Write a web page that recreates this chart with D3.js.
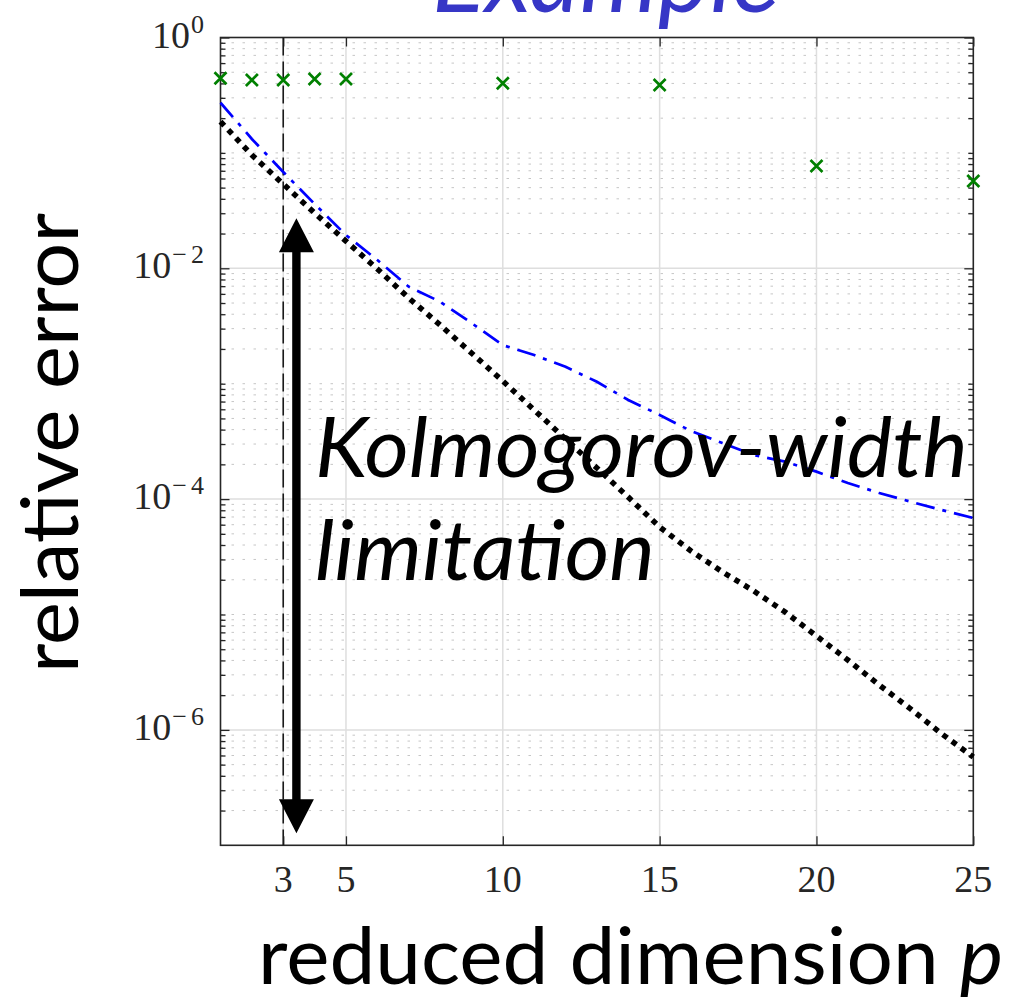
<!DOCTYPE html>
<html><head><meta charset="utf-8">
<script src="https://cdn.jsdelivr.net/npm/d3@7"></script>
<style>body{margin:0;background:#fff}svg{display:block}</style>
</head><body>
<svg id="c" width="1012" height="997"></svg>
<script>
// ---- data ----
const pValues = [1,2,3,4,5,6,7,8,9,10,11,12,13,14,15,16,17,18,19,20,21,22,23,24,25];
const blueError = [0.272,0.132,0.0683,0.0361,0.0194,0.0118,0.00693,0.00514,0.00336,0.00216,
  0.00177,0.00140,0.00104,7.22e-4,5.36e-4,3.89e-4,3.06e-4,2.41e-4,2.11e-4,1.73e-4,
  1.38e-4,1.13e-4,9.5e-5,8.04e-5,6.86e-5];
const blackError = [0.1864,0.0959,0.0537,0.0301,0.0172,0.00986,0.00553,0.00323,0.001845,0.001055,
  5.92e-4,3.32e-4,1.86e-4,1.04e-4,5.73e-5,3.55e-5,2.34e-5,1.60e-5,1.05e-5,6.51e-6,
  4.03e-6,2.45e-6,1.52e-6,9.21e-7,5.82e-7];
const markerP = [1,2,3,4,5,10,15,20,25];
const markerError = [0.443,0.428,0.428,0.437,0.437,0.401,0.388,0.077,0.0571];
const xTickValues = [3,5,10,15,20,25];
const xGridValues = [3,5,10,15,20];
const yTickExponents = [0,-2,-4,-6];
const dashedLineP = 3;
const arrowAnnot = {p:3.42, top:0.0271, bottom:1.27e-7};

// ---- layout ----
const svg = d3.select("#c");
const x = d3.scaleLinear().domain([1,25]).range([220.5,973.3]);
const y = d3.scaleLog().domain([1e-7,1]).range([845.3,37.5]);
const X0 = x.range()[0], X1 = x.range()[1], Y0 = y.range()[1], Y1 = y.range()[0];

// minor values
const yMajor = yTickExponents.map(e => Math.pow(10,e));
const yMinor = [];
for (let n=-7;n<=-1;n++){ for (let k=1;k<=9;k++){
  const v = k*Math.pow(10,n);
  if (n===-7 && k===1) continue;
  if (yMajor.some(m=>Math.abs(Math.log10(m)-Math.log10(v))<1e-9)) continue;
  yMinor.push(v);
}}

function fitText(t, width){
  const w = t.node().getBBox().width;
  return width / w;
}
// title (cut off at the top edge, as in the reference)
{
  const t = svg.append("text").attr("x",0).attr("y",0)
    .attr("font-family","Lato, 'Open Sans', sans-serif").attr("font-style","italic")
    .attr("font-size",100).attr("fill","#3636c6").text("Example");
  const s = fitText(t,348);
  t.attr("transform",`translate(432,12) scale(${s},1)`);
}

// grids
const grid = svg.append("g");
grid.selectAll(".mg").data(yMinor).join("line")
  .attr("x1",X0).attr("x2",X1).attr("y1",d=>y(d)).attr("y2",d=>y(d))
  .attr("stroke","#c6c6c6").attr("stroke-width",1).attr("stroke-dasharray","2.5 8.5");
grid.selectAll(".gy").data(yMajor.filter(v=>v<1)).join("line")
  .attr("x1",X0).attr("x2",X1).attr("y1",d=>y(d)).attr("y2",d=>y(d))
  .attr("stroke","#dedede").attr("stroke-width",1.5);
grid.selectAll(".gx").data(xGridValues).join("line")
  .attr("x1",d=>x(d)).attr("x2",d=>x(d)).attr("y1",Y0).attr("y2",Y1)
  .attr("stroke","#dedede").attr("stroke-width",1.5);

// axes via d3.axis (ticks inward)
const axCol = "#262626";
function styleAxis(g){ g.select(".domain").remove(); g.selectAll("line").attr("stroke",axCol).attr("stroke-width",1.3); g.selectAll("text").remove(); }
svg.append("g").attr("transform",`translate(${X0},0)`).call(d3.axisLeft(y).tickValues(yMajor).tickSize(-9).tickFormat("")).call(styleAxis);
svg.append("g").attr("transform",`translate(${X0},0)`).call(d3.axisLeft(y).tickValues(yMinor).tickSize(-5).tickFormat("")).call(styleAxis);
svg.append("g").attr("transform",`translate(${X1},0)`).call(d3.axisRight(y).tickValues(yMajor).tickSize(-9).tickFormat("")).call(styleAxis);
svg.append("g").attr("transform",`translate(${X1},0)`).call(d3.axisRight(y).tickValues(yMinor).tickSize(-5).tickFormat("")).call(styleAxis);
svg.append("g").attr("transform",`translate(0,${Y1})`).call(d3.axisBottom(x).tickValues(xTickValues).tickSize(-9).tickFormat("")).call(styleAxis);
svg.append("g").attr("transform",`translate(0,${Y0})`).call(d3.axisTop(x).tickValues(xTickValues).tickSize(-9).tickFormat("")).call(styleAxis);
svg.append("rect").attr("x",X0).attr("y",Y0).attr("width",X1-X0).attr("height",Y1-Y0)
  .attr("fill","none").attr("stroke",axCol).attr("stroke-width",1.6);

// tick labels
const tickFont = "'Liberation Serif', 'DejaVu Serif', serif";
svg.append("g").selectAll("text").data(xTickValues).join("text")
  .attr("x",d=>x(d)).attr("y",Y1+47).attr("text-anchor","middle")
  .attr("font-family",tickFont).attr("font-size",38).attr("fill",axCol).text(d=>d);
const yl = svg.append("g").selectAll("text").data(yTickExponents).join("text")
  .attr("x",204).attr("y",d=>y(Math.pow(10,d))+10).attr("text-anchor","end")
  .attr("font-family",tickFont).attr("fill",axCol);
yl.append("tspan").attr("font-size",38).text("10");
yl.each(function(e){
  const t = d3.select(this);
  if (e===0){ t.append("tspan").attr("font-size",26).attr("dy",-15).attr("dx",1).text("0"); }
  else {
    t.append("tspan").attr("font-size",26).attr("dy",-15).attr("dx",1).text("\u2212");
    t.append("tspan").attr("font-size",26).attr("dx",4).text(-e);
  }
});

// dashed x-line at p=3
svg.append("line").attr("x1",x(dashedLineP)).attr("x2",x(dashedLineP)).attr("y1",Y0).attr("y2",Y1)
  .attr("stroke","#1a1a1a").attr("stroke-width",1.6).attr("stroke-dasharray","18 6");

// series
const line = d3.line().x((d,i)=>x(pValues[i])).y(d=>y(d));
svg.append("path").attr("d",line(blueError)).attr("fill","none")
  .attr("stroke","#0000ff").attr("stroke-width",2.7).attr("stroke-dasharray","19 8 4 8");
svg.append("path").attr("d",line(blackError)).attr("fill","none")
  .attr("stroke","#000").attr("stroke-width",5.5).attr("stroke-dasharray","5.5 5.8");
svg.append("g").selectAll("path").data(markerP).join("path")
  .attr("d",(d,i)=>{const cx=x(d), cy=y(markerError[i]), h=6;
    return `M${cx-h},${cy-h}L${cx+h},${cy+h}M${cx-h},${cy+h}L${cx+h},${cy-h}`;})
  .attr("stroke","#008000").attr("stroke-width",2.7).attr("fill","none");

// arrow annotation
{
  const ax = x(arrowAnnot.p), yt = y(arrowAnnot.top), yb = y(arrowAnnot.bottom);
  const hw = 17.5, hl = 34, sw = 4.2;
  const d = `M${ax},${yt}L${ax+hw},${yt+hl}L${ax+sw},${yt+hl}L${ax+sw},${yb-hl}L${ax+hw},${yb-hl}L${ax},${yb}` +
    `L${ax-hw},${yb-hl}L${ax-sw},${yb-hl}L${ax-sw},${yt+hl}L${ax-hw},${yt+hl}Z`;
  svg.append("path").attr("d",d).attr("fill","#000");
}

// text labels
const sans = "Lato, 'Open Sans', sans-serif";
function label(parts, tx, ty, width, rot, size, italicAll){
  const t = svg.append("text").attr("x",0).attr("y",0).attr("font-family",sans)
    .attr("font-size",size).attr("fill","#000");
  if (italicAll) t.attr("font-style","italic");
  parts.forEach(p=>{ const s=t.append("tspan").text(p.t); if(p.i) s.attr("font-style","italic"); });
  const s = fitText(t,width);
  t.attr("transform",`translate(${tx},${ty})${rot?" rotate(-90)":""} scale(${s},1)`);
}
label([{t:"relative error"}], 78, 673, 460, true, 80, false);
label([{t:"reduced dimension "},{t:"p",i:true}], 258, 984, 745, false, 80, false);
label([{t:"Kolmogorov-width"}], 315, 477, 653, false, 83, true);
label([{t:"limitation"}], 315, 580, 340, false, 83, true);
</script>
</body></html>
